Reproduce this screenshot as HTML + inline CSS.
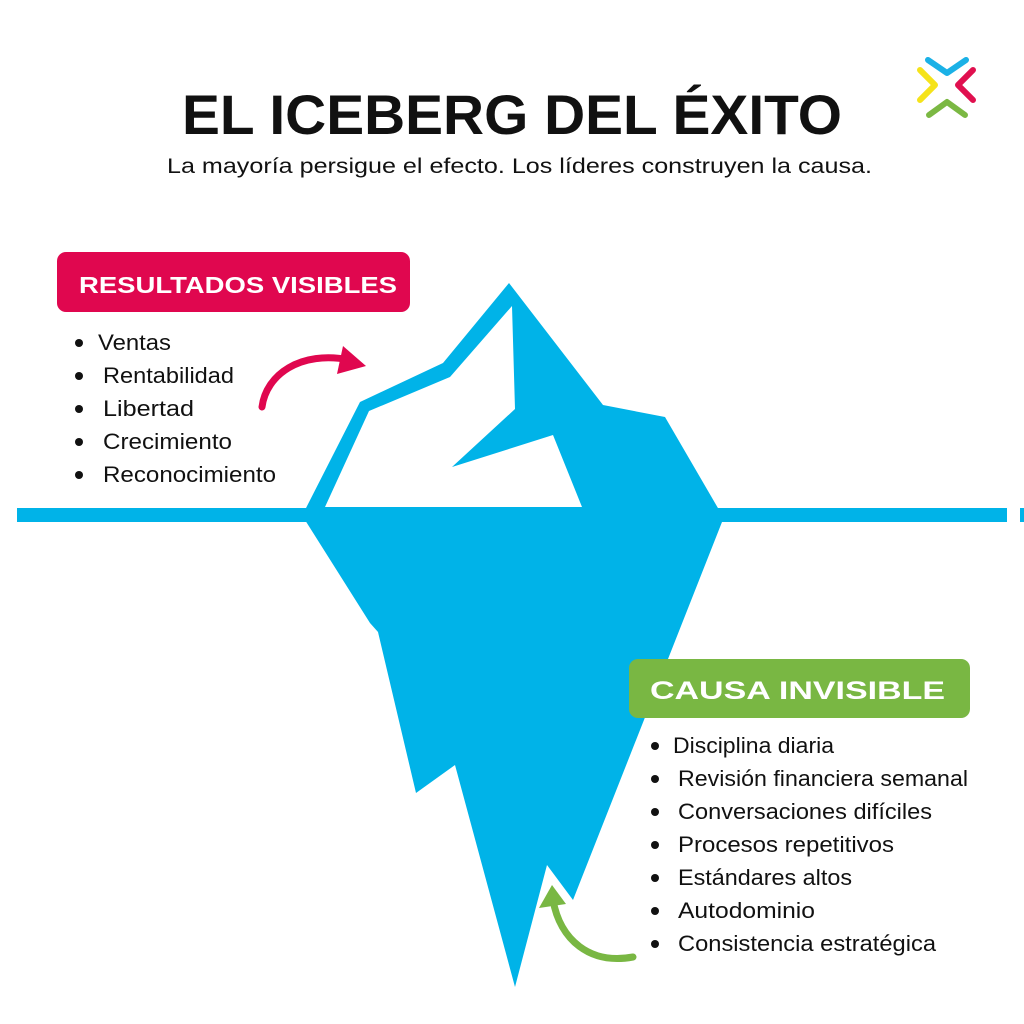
<!DOCTYPE html>
<html><head><meta charset="utf-8"><style>html,body{margin:0;padding:0;background:#fff}svg{display:block}</style></head>
<body>
<svg width="1024" height="1024" viewBox="0 0 1024 1024" xmlns="http://www.w3.org/2000/svg" font-family="'Liberation Sans', sans-serif">
<rect width="1024" height="1024" fill="#fff"/>
<g fill="none" stroke-width="6" stroke-linecap="round" stroke-linejoin="round">
<path d="M928,60 L947,73 L966,60" stroke="#1bb1e6"/>
<path d="M920,70 L935,85 L920,100" stroke="#f5e31a"/>
<path d="M973,70 L958,85 L973,100" stroke="#e0104f"/>
<path d="M929,115 L947,102 L965,115" stroke="#7bb843"/>
</g>
<text x="182" y="134" font-size="56" font-weight="bold" fill="#111" textLength="660" lengthAdjust="spacingAndGlyphs">EL ICEBERG DEL ÉXITO</text>
<text x="167" y="173" font-size="21" fill="#111" textLength="705" lengthAdjust="spacingAndGlyphs">La mayoría persigue el efecto. Los líderes construyen la causa.</text>
<rect x="17" y="508" width="990" height="14" fill="#00b3e8"/>
<rect x="1020" y="508" width="4" height="14" fill="#00b3e8"/>
<path fill="#00b3e8" d="M509,283 L603,405 L665,417 L722,515 L722,522 L573,900 L547,865 L515,987 L455,765 L416,793 L378,632 L370,623 L305,520 L305,510 L360,402 L443,363 Z"/>
<path fill="#fff" d="M512,306 L515,409 L452,467 L553,435 L582,507 L325,507 L369,411 L450,377 Z"/>
<rect x="57" y="252" width="353" height="60" rx="9" fill="#e0074f"/>
<text x="79" y="293" font-size="23" font-weight="bold" fill="#fff" textLength="318" lengthAdjust="spacingAndGlyphs">RESULTADOS VISIBLES</text>
<g font-size="22" fill="#111">
<circle cx="79" cy="343" r="4"/><text x="98" y="350" textLength="73" lengthAdjust="spacingAndGlyphs">Ventas</text>
<circle cx="79" cy="376" r="4"/><text x="103" y="383" textLength="131" lengthAdjust="spacingAndGlyphs">Rentabilidad</text>
<circle cx="79" cy="409" r="4"/><text x="103" y="416" textLength="91" lengthAdjust="spacingAndGlyphs">Libertad</text>
<circle cx="79" cy="442" r="4"/><text x="103" y="449" textLength="129" lengthAdjust="spacingAndGlyphs">Crecimiento</text>
<circle cx="79" cy="475" r="4"/><text x="103" y="482" textLength="173" lengthAdjust="spacingAndGlyphs">Reconocimiento</text>
</g>
<path d="M262,407 C266,375 300,350 350,360" fill="none" stroke="#e0074f" stroke-width="7" stroke-linecap="round"/>
<path d="M343,346 L366,366 L337,374 Z" fill="#e0074f"/>
<rect x="629" y="659" width="341" height="59" rx="9" fill="#79b743"/>
<text x="650" y="699" font-size="25" font-weight="bold" fill="#fff" textLength="295" lengthAdjust="spacingAndGlyphs">CAUSA INVISIBLE</text>
<g font-size="22" fill="#111">
<circle cx="655" cy="746" r="4"/><text x="673" y="753" textLength="161" lengthAdjust="spacingAndGlyphs">Disciplina diaria</text>
<circle cx="655" cy="779" r="4"/><text x="678" y="786" textLength="290" lengthAdjust="spacingAndGlyphs">Revisión financiera semanal</text>
<circle cx="655" cy="812" r="4"/><text x="678" y="819" textLength="254" lengthAdjust="spacingAndGlyphs">Conversaciones difíciles</text>
<circle cx="655" cy="845" r="4"/><text x="678" y="852" textLength="216" lengthAdjust="spacingAndGlyphs">Procesos repetitivos</text>
<circle cx="655" cy="878" r="4"/><text x="678" y="885" textLength="174" lengthAdjust="spacingAndGlyphs">Estándares altos</text>
<circle cx="655" cy="911" r="4"/><text x="678" y="918" textLength="137" lengthAdjust="spacingAndGlyphs">Autodominio</text>
<circle cx="655" cy="944" r="4"/><text x="678" y="951" textLength="258" lengthAdjust="spacingAndGlyphs">Consistencia estratégica</text>
</g>
<path d="M633,957 C590,965 560,940 553,900" fill="none" stroke="#79b743" stroke-width="7" stroke-linecap="round"/>
<path d="M552,885 L539,908 L566,904 Z" fill="#79b743"/>
</svg>
</body></html>
